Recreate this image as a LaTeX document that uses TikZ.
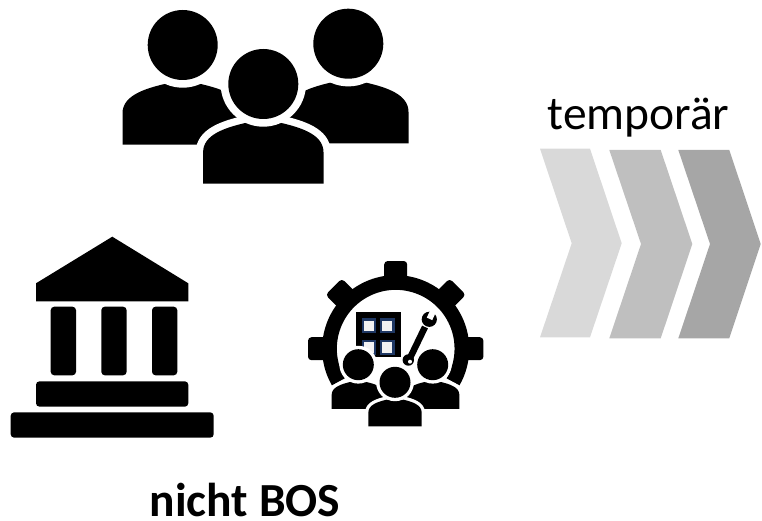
\documentclass[tikz,border=0pt]{standalone}
\usepackage{fontspec}
\setmainfont{Carlito}
\definecolor{navywin}{HTML}{1F3864}
\tikzset{
  icon/.style={fill=black},
  bar/.style={fill=black, rounded corners=3.5pt},
  halo/.style={fill=white},
  winbox/.style={draw=navywin, line width=2.3pt, fill=white!95!black},
  chev/.style={fill=#1},
  label/.style={inner sep=0pt, font=\fontsize{47.5}{47.5}\selectfont}
}
\newcommand{\person}[3]{
  \begin{scope}[shift={(#1,#2)}, scale=#3]
  \draw[white, line width=#3*0.42pt, line join=round] (-1.72,2.85) -- (-1.72,1.95) .. controls (-1.72,1.45) and (-1.1,1.25) .. (-0.5,1.11) -- (0.5,1.11) .. controls (1.1,1.25) and (1.72,1.45) .. (1.72,1.95) -- (1.72,2.85) -- cycle;
  \fill[icon] (-1.72,2.85) -- (-1.72,1.95) .. controls (-1.72,1.45) and (-1.1,1.25) .. (-0.5,1.11) -- (0.5,1.11) .. controls (1.1,1.25) and (1.72,1.45) .. (1.72,1.95) -- (1.72,2.85) -- cycle;
  \fill[halo] (0,0) circle (1.22);
  \fill[icon] (0,0) circle (1);
  \end{scope}
}
\begin{document}
\begin{tikzpicture}[x=1pt, y=-1pt]
\useasboundingbox (0,0) rectangle (762,521);
% people
\person{182.7}{45}{35}
\person{348.3}{43.7}{35}
\person{263.3}{84}{35}
% bank
\fill[icon] (36,283.3) -- (112.3,236.7) -- (188.3,283.3) -- (188.3,301.3) -- (36,301.3) -- cycle;
\foreach \x in {50.7,101.3,152}
  \fill[bar] (\x,306.7) rectangle (\x+25.3,375.3);
\fill[bar] (36,381.3) rectangle (188.3,406.7);
\fill[bar] (10.7,412.3) rectangle (213.7,437.7);
% gear
\draw[line width=14.7pt] (395.7,348.7) ++(150:66.2) arc (150:390:66.2);
\foreach \a in {0,45,90,135,180}
  \fill[bar, shift={(395.7,348.7)}, rotate=\a] (64,-11.5) rectangle (87.7,11.5);
% building
\fill[icon] (356,312) rectangle (401,356.7);
\foreach \x in {362.8,381.2}
  \foreach \y in {319.4,341.2}
    \draw[winbox] (\x,\y) rectangle (\x+12.4,\y+12.8);
% wrench
\draw[line width=6.5pt] (425,327) -- (410,358);
\fill[icon] (429.3,319.3) circle (7.6);
\fill[halo, shift={(429.3,319.3)}, rotate=65] (0.5,-3) rectangle (9,3);
\fill[icon] (408.3,360) circle (5.7);
\fill[halo] (410,361.7) circle (2);
\person{358.3}{364.7}{15.5}
\person{432.7}{364.7}{15.5}
\person{395}{382.3}{15.5}
% chevrons
\fill[chev=black!15] (540,148.7) -- (590,148.7) -- (621.7,243.3) -- (590,337.3) -- (540,337.3) -- (571.7,243.3) -- cycle;
\fill[chev=black!25] (609.3,150) -- (660.7,150) -- (692.3,244) -- (660.7,338.3) -- (609.3,338.3) -- (641,244) -- cycle;
\fill[chev=black!35] (678.3,150) -- (729.3,150) -- (760.7,244) -- (729.3,338.3) -- (678.3,338.3) -- (710,244) -- cycle;
\node[label, anchor=base] (temp) at (638.5,130) {temporär};
\node[label, anchor=base, font=\fontsize{47.5}{47.5}\selectfont\bfseries] (bos) at (245,516.5) {nicht BOS};
\end{tikzpicture}
\end{document}
